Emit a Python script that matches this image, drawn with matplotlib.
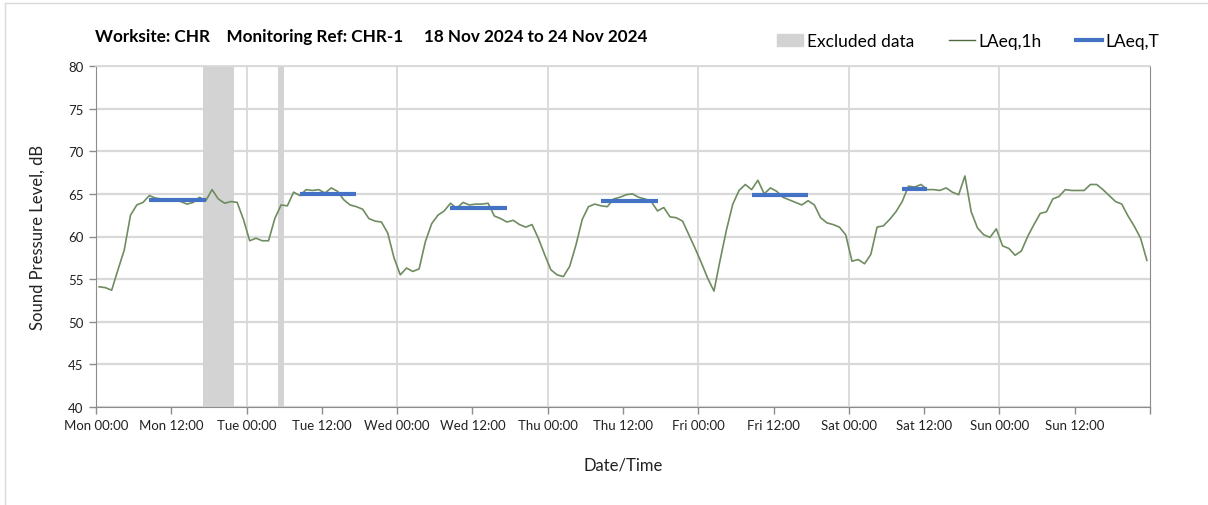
import numpy as np
import pandas as pd
import matplotlib
matplotlib.use('Agg')
import matplotlib.pyplot as plt
import matplotlib.dates as mdates
import matplotlib.patches as mpatches
from matplotlib.lines import Line2D

plt.rcParams['font.family'] = ['Lato', 'DejaVu Sans']

# hourly LAeq,1h values, Mon 18 Nov 2024 00:00 onwards (168 hours)
laeq_1h = [
    54.1, 54.0, 53.7, 56.1, 58.4, 62.5, 63.7, 64.0, 64.8, 64.5, 64.4, 64.3,
    64.3, 64.1, 63.8, 64.0, 64.6, 64.2, 65.5, 64.4, 63.9, 64.1, 64.0, 62.0,
    59.5, 59.8, 59.5, 59.5, 62.1, 63.7, 63.6, 65.2, 64.8, 65.5, 65.4, 65.5,
    65.1, 65.7, 65.3, 64.3, 63.7, 63.5, 63.2, 62.1, 61.8, 61.7, 60.4, 57.5,
    55.5, 56.3, 55.9, 56.2, 59.4, 61.5, 62.5, 63.0, 63.9, 63.3, 64.0, 63.7,
    63.8, 63.8, 63.9, 62.4, 62.1, 61.7, 61.9, 61.4, 61.1, 61.4, 59.8, 57.9,
    56.1, 55.5, 55.3, 56.5, 59.0, 62.0, 63.5, 63.8, 63.6, 63.5, 64.4, 64.6,
    64.9, 65.0, 64.6, 64.4, 64.1, 63.0, 63.4, 62.3, 62.2, 61.8, 60.2, 58.6,
    56.9, 55.1, 53.6, 57.3, 60.8, 63.8, 65.4, 66.1, 65.5, 66.6, 65.0, 65.7,
    65.3, 64.6, 64.3, 64.0, 63.7, 64.2, 63.7, 62.2, 61.6, 61.4, 61.1, 60.2,
    57.1, 57.3, 56.8, 57.9, 61.1, 61.25, 62.0, 62.9, 64.1, 65.9, 65.8, 66.1,
    65.5, 65.5, 65.4, 65.7, 65.2, 64.9, 67.1, 62.9, 61.0, 60.2, 59.9, 60.9,
    58.9, 58.6, 57.8, 58.3, 60.0, 61.4, 62.7, 62.9, 64.4, 64.7, 65.5, 65.4,
    65.4, 65.4, 66.1, 66.1, 65.5, 64.8, 64.1, 63.8, 62.4, 61.2, 59.8, 57.2,
]

# LAeq,T periods (first hour, last hour, level)
laeqT_start = [8, 32, 56, 80, 104, 128]
laeqT_end = [17, 41, 65, 89, 113, 132]
laeqT_level = [64.3, 65.0, 63.3, 64.2, 64.9, 65.6]

# excluded data (start hour, end hour)
excl_start = [17, 29]
excl_end = [22, 30]

t0 = pd.Timestamp('2024-11-18 00:00')
hours = pd.to_timedelta(np.arange(len(laeq_1h)) + 0.5, unit='h')
times = t0 + hours

fig = plt.figure(figsize=(12.08, 5.06), dpi=100)
ax = fig.add_axes([96 / 1208, 98 / 506, 1054 / 1208, 341 / 506])

grid_col = '#d9d9d9'
for s, e in zip(excl_start, excl_end):
    ax.axvspan(t0 + pd.Timedelta(hours=s), t0 + pd.Timedelta(hours=e),
               color='#d3d3d3', lw=0, zorder=1)

for d in range(1, 7):
    ax.axvline(t0 + pd.Timedelta(days=d), color=grid_col, lw=1.3, zorder=0.5)
ax.yaxis.grid(True, color=grid_col, lw=1.6, zorder=0.5)

ax.plot(times, laeq_1h, color='#6f8c60', lw=1.2, zorder=3)
for s, e, v in zip(laeqT_start, laeqT_end, laeqT_level):
    ax.plot([t0 + pd.Timedelta(hours=s + 0.5), t0 + pd.Timedelta(hours=e + 0.5)],
            [v, v], color='#4472c4', lw=3, solid_capstyle='butt', zorder=4)

ax.set_ylim(40, 80)
ax.set_yticks(np.arange(40, 81, 5))
ax.set_xlim(t0, t0 + pd.Timedelta(days=7))
ax.xaxis.set_major_locator(mdates.HourLocator(byhour=[0, 12]))
end = mdates.date2num(t0 + pd.Timedelta(days=7))


def fmt(x, pos):
    if abs(x - end) < 1e-6:
        return ''
    return mdates.num2date(x).strftime('%a %H:%M')


ax.xaxis.set_major_formatter(plt.FuncFormatter(fmt))
ax.set_axisbelow(True)
ax.tick_params(axis='both', direction='out', length=5, width=1, color='#8c8c8c',
               labelsize=9.5, labelcolor='#222222', pad=4)
for sp in ['left', 'bottom', 'right']:
    ax.spines[sp].set_color('#8c8c8c')
ax.spines['top'].set_color(grid_col)
ax.spines['top'].set_linewidth(1.3)

ax.set_ylabel('Sound Pressure Level, dB', fontsize=12, color='#222222', labelpad=16)
ax.set_xlabel('Date/Time', fontsize=12, color='#222222', labelpad=18)

fig.text(95 / 1208, 1 - 37 / 506,
         'Worksite: CHR    Monitoring Ref: CHR-1     18 Nov 2024 to 24 Nov 2024',
         fontsize=12.3, fontweight='bold', va='center', ha='left')

handles = [mpatches.Patch(color='#d3d3d3', label='Excluded data'),
           Line2D([0], [0], color='#4f6a3f', lw=1, label='LAeq,1h'),
           Line2D([0], [0], color='#4472c4', lw=3, label='LAeq,T')]
fig.legend(handles=handles, loc='center right', bbox_to_anchor=(1175 / 1208, 1 - 42 / 506),
           ncol=3, frameon=False, fontsize=12.5, handlelength=1.5, handletextpad=0.2,
           columnspacing=2.0)

# outer chart border (top and left edges)
fig.add_artist(Line2D([5 / 1208, 1], [1 - 4 / 506, 1 - 4 / 506], color='#d9d9d9', lw=1))
fig.add_artist(Line2D([5 / 1208, 5 / 1208], [0, 1 - 4 / 506], color='#d9d9d9', lw=1))

plt.savefig('out.png', dpi=100)
